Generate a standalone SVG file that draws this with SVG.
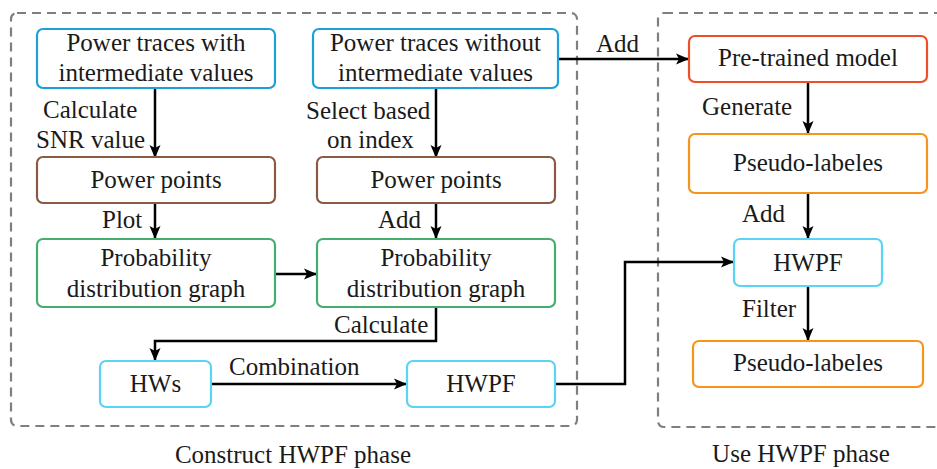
<svg xmlns="http://www.w3.org/2000/svg" width="937" height="469" viewBox="0 0 937 469">
<style>
text{font-size:25px;fill:#1a1a1a}
.c{text-anchor:middle}
.node{fill:#fff;stroke-width:2.2}
.blue{stroke:#1e9fd9}
.brown{stroke:#8a5a42}
.green{stroke:#45ad6e}
.cyan{stroke:#5bd3f5}
.red{stroke:#ef4f27}
.orange{stroke:#f7941d}
.phase{fill:none;stroke:#7f7f7f;stroke-width:2.2;stroke-dasharray:9 6}
.conn{fill:none;stroke:#000;stroke-width:2.5}
</style>
<defs>
<marker id="ah" markerUnits="userSpaceOnUse" markerWidth="14" markerHeight="14" viewBox="0 0 14 14" refX="13" refY="7" orient="auto">
<path d="M0,1.5 L13,7 L0,12.5 L3,7 Z" fill="#000"/>
</marker>
</defs>
<g font-family="Liberation Serif, Times New Roman, serif">
<g id="phases">
<rect class="phase" x="11" y="13" width="566" height="413" rx="6"/>
<rect class="phase" x="658" y="13" width="290" height="414" rx="6"/>
<text class="c" x="293" y="463">Construct HWPF phase</text>
<text class="c" x="801" y="462">Use HWPF phase</text>
</g>
<g id="connectors">
<path class="conn" d="M155,88 V158" marker-end="url(#ah)"/>
<path class="conn" d="M436,88 V158" marker-end="url(#ah)"/>
<path class="conn" d="M155,203 V239" marker-end="url(#ah)"/>
<path class="conn" d="M436,203 V239" marker-end="url(#ah)"/>
<path class="conn" d="M275,274 H317" marker-end="url(#ah)"/>
<path class="conn" d="M436,307 V341 H155 V361" marker-end="url(#ah)"/>
<path class="conn" d="M211,384 H407" marker-end="url(#ah)"/>
<path class="conn" d="M555,384 H625 V262 H734" marker-end="url(#ah)"/>
<path class="conn" d="M558,59 H689" marker-end="url(#ah)"/>
<path class="conn" d="M808,82 V134" marker-end="url(#ah)"/>
<path class="conn" d="M808,193 V239" marker-end="url(#ah)"/>
<path class="conn" d="M808,286 V341" marker-end="url(#ah)"/>
<text x="43" y="118">Calculate</text>
<text x="36" y="148">SNR value</text>
<text x="306" y="119">Select based</text>
<text x="327" y="148">on index</text>
<text x="102" y="228">Plot</text>
<text x="378" y="228">Add</text>
<text x="334" y="333">Calculate</text>
<text x="229" y="375">Combination</text>
<text x="596" y="52">Add</text>
<text x="702" y="115">Generate</text>
<text x="742" y="222">Add</text>
<text x="742" y="317">Filter</text>
</g>
<g id="traces-with">
<rect class="node blue" x="37" y="29" width="238" height="59" rx="6"/>
<text class="c" x="156" y="51">Power traces with</text>
<text class="c" x="156" y="81">intermediate values</text>
</g>
<g id="traces-without">
<rect class="node blue" x="313" y="29" width="245" height="59" rx="6"/>
<text class="c" x="435.5" y="51">Power traces without</text>
<text class="c" x="435.5" y="81">intermediate values</text>
</g>
<g id="power-points-1">
<rect class="node brown" x="37" y="157" width="238" height="46" rx="6"/>
<text class="c" x="156" y="188">Power points</text>
</g>
<g id="power-points-2">
<rect class="node brown" x="317" y="157" width="238" height="46" rx="6"/>
<text class="c" x="436" y="188">Power points</text>
</g>
<g id="prob-1">
<rect class="node green" x="37" y="239" width="238" height="68" rx="6"/>
<text class="c" x="156" y="266">Probability</text>
<text class="c" x="156" y="297">distribution graph</text>
</g>
<g id="prob-2">
<rect class="node green" x="317" y="239" width="238" height="68" rx="6"/>
<text class="c" x="436" y="266">Probability</text>
<text class="c" x="436" y="297">distribution graph</text>
</g>
<g id="hws">
<rect class="node cyan" x="100" y="361" width="111" height="46" rx="6"/>
<text class="c" x="155.5" y="392">HWs</text>
</g>
<g id="hwpf-1">
<rect class="node cyan" x="407" y="361" width="148" height="46" rx="6"/>
<text class="c" x="481" y="392">HWPF</text>
</g>
<g id="pretrained">
<rect class="node red" x="689" y="36" width="238" height="46" rx="6"/>
<text class="c" x="808" y="66">Pre-trained model</text>
</g>
<g id="pseudo-1">
<rect class="node orange" x="689" y="134" width="238" height="59" rx="6"/>
<text class="c" x="808" y="171">Pseudo-labeles</text>
</g>
<g id="hwpf-2">
<rect class="node cyan" x="734" y="239" width="148" height="47" rx="6"/>
<text class="c" x="808" y="271">HWPF</text>
</g>
<g id="pseudo-2">
<rect class="node orange" x="693" y="341" width="230" height="46" rx="6"/>
<text class="c" x="808" y="371">Pseudo-labeles</text>
</g>
</g>
</svg>
